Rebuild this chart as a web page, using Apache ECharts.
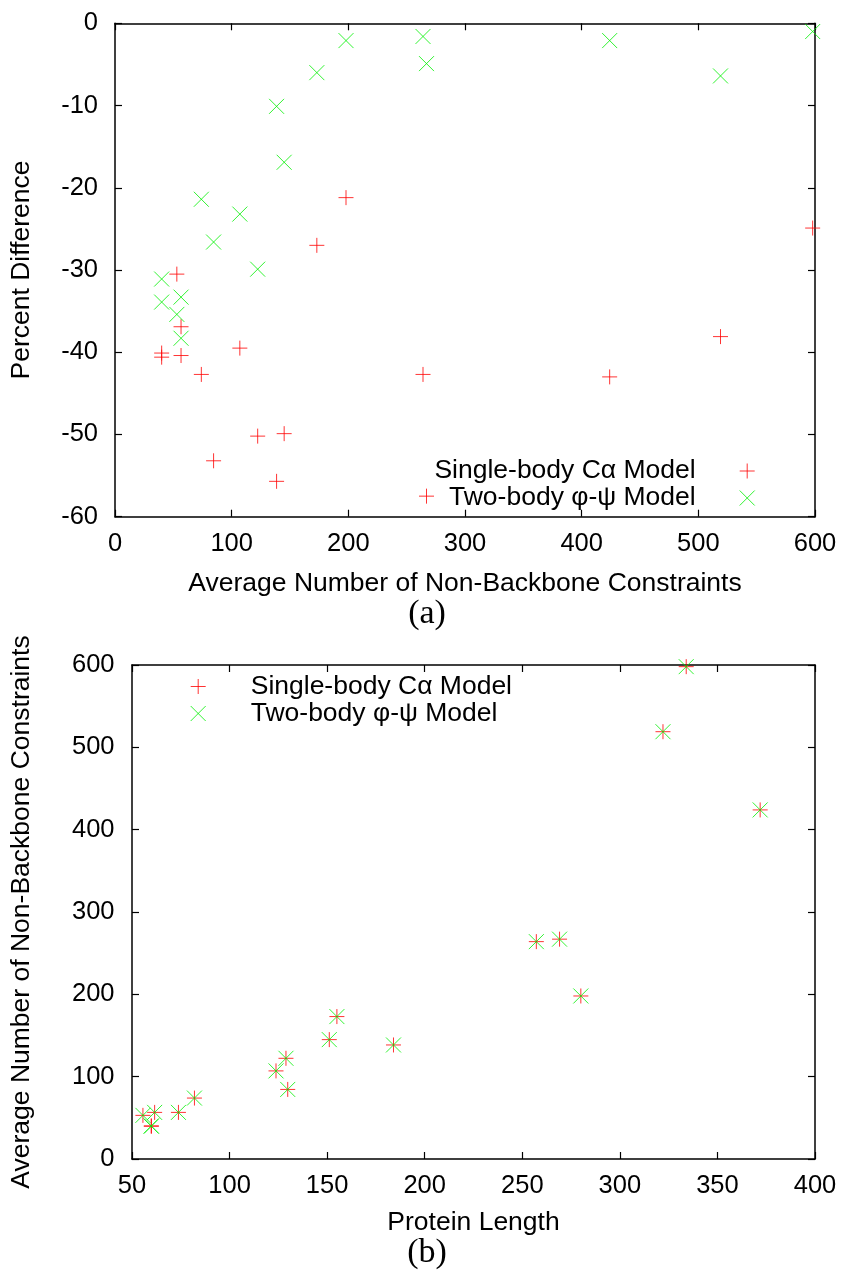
<!DOCTYPE html>
<html>
<head>
<meta charset="utf-8">
<script src="https://cdn.jsdelivr.net/npm/echarts@6/dist/echarts.min.js"></script>
<style>
html,body{margin:0;padding:0;background:#fff;}
#c{width:843px;height:1273px;}
</style>
</head>
<body>
<div id="c"></div>
<script>
// ---- data ----
const seriesNames = ['Single-body C\u03b1 Model', 'Two-body \u03c6-\u03c8 Model'];
// average number of non-backbone constraints (x in panel a, y in panel b)
const constraints = [40, 40, 53, 56.6, 56.6, 74, 84.5, 107, 122.3, 138.5, 145, 173, 198, 264, 267, 424, 519, 598];
// protein length (x in panel b)
const proteinLength = [59.9, 59.9, 55.6, 61.6, 73.8, 82, 129.8, 123.8, 128.9, 184, 151.1, 155, 280, 257.2, 269.1, 371.9, 322.1, 334];
// percent difference (y in panel a)
const singleBodyPct = [-40.1, -40.6, -30.5, -36.9, -40.4, -42.7, -53.2, -39.5, -50.2, -55.7, -49.9, -27.0, -21.2, -42.7, -57.5, -43.0, -38.1, -24.9];
const twoBodyPct = [-31.1, -33.9, -35.4, -33.3, -38.3, -21.4, -26.6, -23.2, -29.9, -10.1, -16.9, -6.0, -2.1, -1.6, -4.9, -2.1, -6.4, -1.0];
// axis ranges
const axA_x = {min: 0, max: 600, interval: 100};
const axA_y = {min: -60, max: 0, interval: 10};
const axB_x = {min: 50, max: 400, interval: 50};
const axB_y = {min: 0, max: 600, interval: 100};
const axisTitles = {
  ax: 'Average Number of Non-Backbone Constraints',
  ay: 'Percent Difference',
  bx: 'Protein Length',
  by: 'Average Number of Non-Backbone Constraints'
};
const panelLabels = ['(a)', '(b)'];

// ---- styles ----
const RED = '#ff0000', GREEN = '#00f000';
const PLUS = 'path://M7,0L7,14M0,7L14,7';
const CROSS = 'path://M0,0L14,14M14,0L0,14';
const FONT = 'Liberation Sans';
const TICK_FS = 25.5, TITLE_FS = 26.5;
const lineStyle = {color: '#000', width: 1.5};
function mkAxis(r, grid, pos, showLabel, labelMargin, name, nameGap) {
  return {
    type: 'value', gridIndex: grid, position: pos,
    min: r.min, max: r.max, interval: r.interval,
    axisLine: {show: true, onZero: false, lineStyle: lineStyle},
    axisTick: {show: true, inside: true, length: 7, lineStyle: {color: '#000', width: 1.2}},
    axisLabel: {show: showLabel, margin: labelMargin, color: '#000', fontSize: TICK_FS, fontFamily: FONT},
    splitLine: {show: false},
    name: name || '', nameLocation: 'middle', nameGap: nameGap || 0,
    nameTextStyle: {color: '#000', fontSize: TITLE_FS, fontFamily: FONT}
  };
}

const chart = echarts.init(document.getElementById('c'), null, {renderer: 'canvas'});
const option = {
  backgroundColor: '#fff',
  animation: false,
  grid: [
    {left: 115, top: 23.3, width: 700, height: 493.4, containLabel: false},
    {left: 130.7, top: 665, width: 684.3, height: 494, containLabel: false}
  ],
  xAxis: [
    mkAxis(axA_x, 0, 'bottom', true, 14.5, axisTitles.ax, 53),
    mkAxis(axA_x, 0, 'top', false, 0),
    mkAxis(axB_x, 1, 'bottom', true, 14, axisTitles.bx, 50.5),
    mkAxis(axB_x, 1, 'top', false, 0)
  ],
  yAxis: [
    mkAxis(axA_y, 0, 'left', true, 17, axisTitles.ay, 80),
    mkAxis(axA_y, 0, 'right', false, 0),
    mkAxis(axB_y, 1, 'left', true, 17.5, axisTitles.by, 97),
    mkAxis(axB_y, 1, 'right', false, 0)
  ],
  legend: [
    {
      orient: 'vertical', align: 'right', right: 87.8, top: 457.5, padding: 0,
      itemWidth: 15, itemHeight: 15, itemGap: 0, selectedMode: false,
      textStyle: {color: '#000', fontSize: TITLE_FS, fontFamily: FONT, lineHeight: 26.7, padding: [0, 39, 0, 0]},
      data: [
        {name: seriesNames[0], icon: PLUS, itemStyle: {color: RED, borderColor: RED, borderWidth: 1}},
        {name: seriesNames[1], icon: CROSS, itemStyle: {color: GREEN, borderColor: GREEN, borderWidth: 1}}
      ]
    },
    {
      orient: 'vertical', align: 'left', left: 190.2, top: 673, padding: 0,
      itemWidth: 15, itemHeight: 15, itemGap: 0, selectedMode: false,
      textStyle: {color: '#000', fontSize: TITLE_FS, fontFamily: FONT, lineHeight: 26.5, padding: [0, 0, 0, 40]},
      data: [
        {name: seriesNames[0], icon: PLUS, itemStyle: {color: RED, borderColor: RED, borderWidth: 1}},
        {name: seriesNames[1], icon: CROSS, itemStyle: {color: GREEN, borderColor: GREEN, borderWidth: 1}}
      ]
    }
  ],
  graphic: [
    {type: 'text', x: 427, y: 614, style: {text: panelLabels[0], font: '34px "Liberation Serif"', fill: '#000', align: 'center', verticalAlign: 'middle'}},
    {type: 'text', x: 427, y: 1253, style: {text: panelLabels[1], font: '34px "Liberation Serif"', fill: '#000', align: 'center', verticalAlign: 'middle'}}
  ],
  series: [
    {
      name: seriesNames[0], type: 'scatter', xAxisIndex: 0, yAxisIndex: 0,
      symbol: PLUS, symbolSize: 15,
      itemStyle: {color: RED, borderColor: RED, borderWidth: 1},
      emphasis: {disabled: true},
      data: constraints.map((c, i) => [c, singleBodyPct[i]])
    },
    {
      name: seriesNames[1], type: 'scatter', xAxisIndex: 0, yAxisIndex: 0,
      symbol: CROSS, symbolSize: 15,
      itemStyle: {color: GREEN, borderColor: GREEN, borderWidth: 1},
      emphasis: {disabled: true},
      data: constraints.map((c, i) => [c, twoBodyPct[i]])
    },
    {
      name: seriesNames[0], type: 'scatter', xAxisIndex: 2, yAxisIndex: 2,
      symbol: PLUS, symbolSize: 15,
      itemStyle: {color: RED, borderColor: RED, borderWidth: 1},
      emphasis: {disabled: true},
      data: proteinLength.map((p, i) => [p, constraints[i]])
    },
    {
      name: seriesNames[1], type: 'scatter', xAxisIndex: 2, yAxisIndex: 2,
      symbol: CROSS, symbolSize: 15,
      itemStyle: {color: GREEN, borderColor: GREEN, borderWidth: 1},
      emphasis: {disabled: true},
      data: proteinLength.map((p, i) => [p, constraints[i]])
    }
  ]
};
chart.setOption(option);
</script>
</body>
</html>
